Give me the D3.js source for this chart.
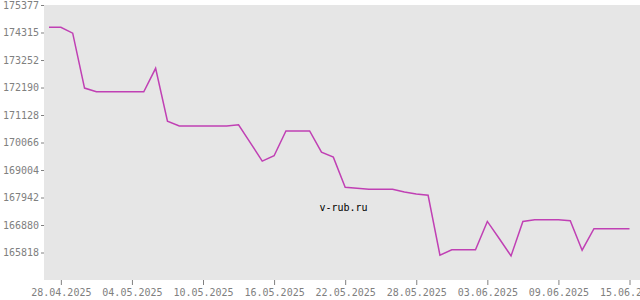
<!DOCTYPE html>
<html><head><meta charset="utf-8">
<script src="https://cdn.jsdelivr.net/npm/d3@7"></script>
<style>html,body{margin:0;padding:0;background:#fff;}svg{display:block;}</style>
</head><body><svg id="c" width="640" height="300"></svg>
<script>
const startDate = "2025-04-27";
const values = [174515,174515,174290,172168,172024,172024,172024,172024,172024,172932,
170887,170705,170705,170705,170705,170705,170751,170053,169347,169556,
170511,170511,170511,169696,169502,168338,168299,168260,168260,168260,
168151,168074,168027,165714,165920,165920,165920,167018,166359,165687,
167018,167084,167084,167084,167045,165908,166735,166735,166735,166735];
const yTicks = [165818,166880,167942,169004,170066,171128,172190,173252,174315,175377];
const yDomain = [164756, 175377];
const xTickLabels = ["28.04.2025","04.05.2025","10.05.2025","16.05.2025","22.05.2025","28.05.2025","03.06.2025","09.06.2025","15.06.2025"];

(function(){
const parse = d3.timeParse("%Y-%m-%d");
const parseTick = d3.timeParse("%d.%m.%Y");
const fmt = d3.timeFormat("%d.%m.%Y");
const t0 = parse(startDate);
const data = values.map((v,i)=>({d:d3.timeDay.offset(t0,i), v}));

const svg = d3.select("#c");
const pL=44, pR=640, pT=5, pB=280;
svg.append("rect").attr("x",pL).attr("y",pT).attr("width",pR-pL).attr("height",pB-pT).attr("fill","#e6e6e6");

const x = d3.scaleTime().domain([data[0].d, data[data.length-1].d]).range([49,629.5]);
const y = d3.scaleLinear().domain(yDomain).range([pB, pT]);

const yAxis = svg.append("g").attr("transform",`translate(${pL},0)`)
  .call(d3.axisLeft(y).tickValues(yTicks).tickFormat(d3.format("d")).tickSize(3).tickPadding(2));
const xAxis = svg.append("g").attr("transform",`translate(0,${pB})`)
  .call(d3.axisBottom(x).tickValues(xTickLabels.map(parseTick)).tickFormat(fmt).tickSize(5).tickPadding(4));
[yAxis,xAxis].forEach(a=>{
  a.select(".domain").remove();
  a.selectAll("line").attr("stroke","#808080");
  a.selectAll("text").attr("fill","#808080").style("font-family","'DejaVu Sans Mono', monospace").style("font-size","10px");
});

svg.append("text").attr("x",343.5).attr("y",211).attr("text-anchor","middle")
  .style("font-family","'DejaVu Sans Mono', monospace").style("font-size","10px").attr("fill","#000").text("v-rub.ru");

svg.append("path").datum(data).attr("fill","none").attr("stroke","#c040b4").attr("stroke-width",1.5)
  .attr("d", d3.line().x(d=>x(d.d)).y(d=>y(d.v)));
})();
</script></body></html>
